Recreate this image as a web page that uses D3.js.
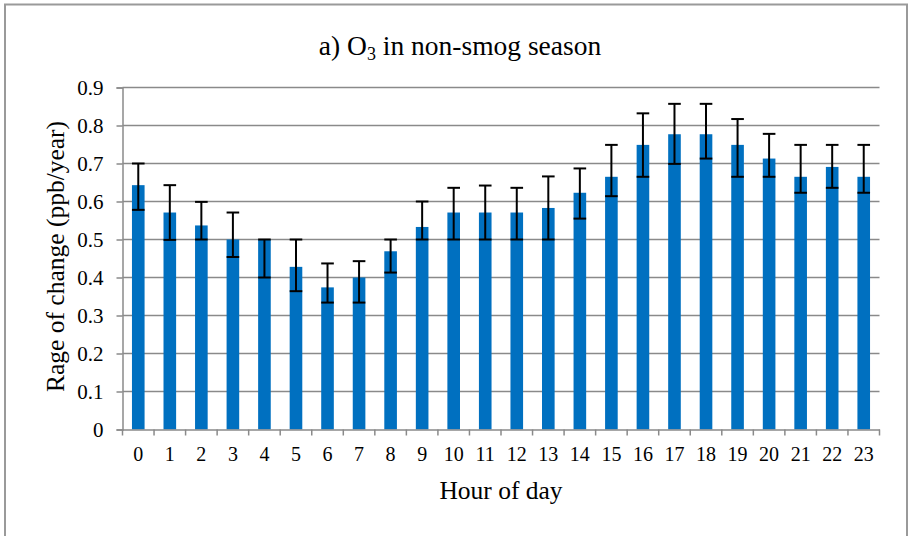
<!DOCTYPE html>
<html>
<head>
<meta charset="utf-8">
<script src="https://cdnjs.cloudflare.com/ajax/libs/d3/7.8.5/d3.min.js"></script>
<style>
  html, body { margin: 0; padding: 0; background: #fff; }
  svg text { font-family: "Times New Roman", "Liberation Serif", Tinos, "DejaVu Serif", serif !important; fill: #000; }
</style>
</head>
<body>
<div id="chart"></div>
<script>
  // hour of day
  const hours = d3.range(0, 24).map(String);

  // rate of change (ppb/year) and error bar limits
  const rates = [0.643, 0.571, 0.537, 0.500, 0.500, 0.428, 0.374, 0.400, 0.469, 0.533, 0.571, 0.571,
                 0.571, 0.583, 0.623, 0.665, 0.749, 0.777, 0.777, 0.749, 0.713, 0.665, 0.691, 0.665];
  const upper = [0.700, 0.643, 0.599, 0.571, 0.500, 0.500, 0.437, 0.443, 0.500, 0.600, 0.636, 0.642,
                 0.636, 0.666, 0.687, 0.749, 0.832, 0.857, 0.857, 0.817, 0.778, 0.749, 0.749, 0.749];
  const lower = [0.578, 0.499, 0.500, 0.454, 0.400, 0.364, 0.334, 0.334, 0.413, 0.500, 0.500, 0.500,
                 0.500, 0.500, 0.555, 0.614, 0.665, 0.699, 0.713, 0.665, 0.665, 0.623, 0.636, 0.623];

  const yTicks = [0, 0.1, 0.2, 0.3, 0.4, 0.5, 0.6, 0.7, 0.8, 0.9];

  const W = 912, H = 536;
  const margin = { top: 87.5, right: 32.5, bottom: 106.5, left: 122.5 };
  const width = W - margin.left - margin.right,
    height = H - margin.top - margin.bottom;

  const svg = d3.select('#chart').append('svg')
    .attr('width', W)
    .attr('height', H);

  // chart frame
  svg.append('rect')
    .attr('x', 5).attr('y', 4.5)
    .attr('width', 902).attr('height', 540)
    .attr('fill', 'none')
    .attr('stroke', '#9a9a9a')
    .attr('stroke-width', 2);

  const g = svg.append('g')
    .attr('transform', `translate(${margin.left}, ${margin.top})`);

  const x = d3.scaleBand().domain(hours).range([0, width]).paddingInner(0.6).paddingOuter(0.3);
  const y = d3.scaleLinear().domain([0, 0.9]).range([height, 0]);

  // gridlines
  g.append('g')
    .selectAll('line')
    .data(yTicks.filter(d => d > 0))
    .join('line')
    .attr('x1', 0).attr('x2', width)
    .attr('y1', d => y(d)).attr('y2', d => y(d))
    .attr('stroke', '#8a8a8a')
    .attr('stroke-width', 1.5);

  // y axis
  const yAxis = g.append('g')
    .call(d3.axisLeft(y).tickValues(yTicks).tickFormat(d => d === 0 ? '0' : d3.format('.1f')(d)).tickSize(6).tickPadding(13));
  yAxis.attr('font-family', null);
  yAxis.select('.domain').attr('stroke', '#8a8a8a').attr('stroke-width', 1.5);
  yAxis.selectAll('.tick line').attr('stroke', '#8a8a8a').attr('stroke-width', 1.5);
  yAxis.selectAll('.tick text').attr('font-size', 21).attr('dy', '0.34em');

  // bars
  g.append('g')
    .selectAll('rect')
    .data(rates)
    .join('rect')
    .attr('x', (d, i) => x(hours[i]))
    .attr('y', d => y(d))
    .attr('width', x.bandwidth())
    .attr('height', d => height - y(d))
    .attr('fill', '#0070c0');

  // error bars
  const err = g.append('g')
    .attr('stroke', '#000')
    .attr('stroke-width', 2)
    .selectAll('g')
    .data(hours)
    .join('g')
    .attr('transform', d => `translate(${x(d) + x.bandwidth() / 2}, 0)`);
  const cap = x.bandwidth() / 2;
  err.append('line')
    .attr('y1', (d, i) => y(upper[i])).attr('y2', (d, i) => y(lower[i]));
  err.append('line')
    .attr('x1', -cap).attr('x2', cap)
    .attr('y1', (d, i) => y(upper[i])).attr('y2', (d, i) => y(upper[i]));
  err.append('line')
    .attr('x1', -cap).attr('x2', cap)
    .attr('y1', (d, i) => y(lower[i])).attr('y2', (d, i) => y(lower[i]));

  // x axis with ticks between categories
  const xAxis = g.append('g')
    .attr('transform', `translate(0, ${height})`)
    .call(d3.axisBottom(x).tickSize(0).tickPadding(17));
  xAxis.attr('font-family', null);
  xAxis.select('.domain').attr('stroke', '#8a8a8a').attr('stroke-width', 1.5);
  xAxis.selectAll('.tick text').attr('font-size', 20);

  const step = x.step();
  xAxis.append('g')
    .selectAll('line')
    .data(d3.range(0, hours.length + 1))
    .join('line')
    .attr('x1', i => i * step).attr('x2', i => i * step)
    .attr('y1', 0).attr('y2', 6)
    .attr('stroke', '#8a8a8a')
    .attr('stroke-width', 1.5);

  // title
  const title = svg.append('text')
    .attr('x', 460)
    .attr('y', 55)
    .attr('text-anchor', 'middle')
    .attr('font-size', 27.5);
  title.append('tspan').text('a) O');
  title.append('tspan').attr('font-size', 18).attr('dy', 5).text('3');
  title.append('tspan').attr('dy', -5).text(' in non-smog season');

  // axis titles
  svg.append('text')
    .attr('transform', `translate(64, ${margin.top + height / 2 - 2}) rotate(-90)`)
    .attr('text-anchor', 'middle')
    .attr('font-size', 25.5)
    .text('Rage of change (ppb/year)');

  svg.append('text')
    .attr('x', margin.left + width / 2)
    .attr('y', 498.5)
    .attr('text-anchor', 'middle')
    .attr('font-size', 25.5)
    .text('Hour of day');
</script>
</body>
</html>
